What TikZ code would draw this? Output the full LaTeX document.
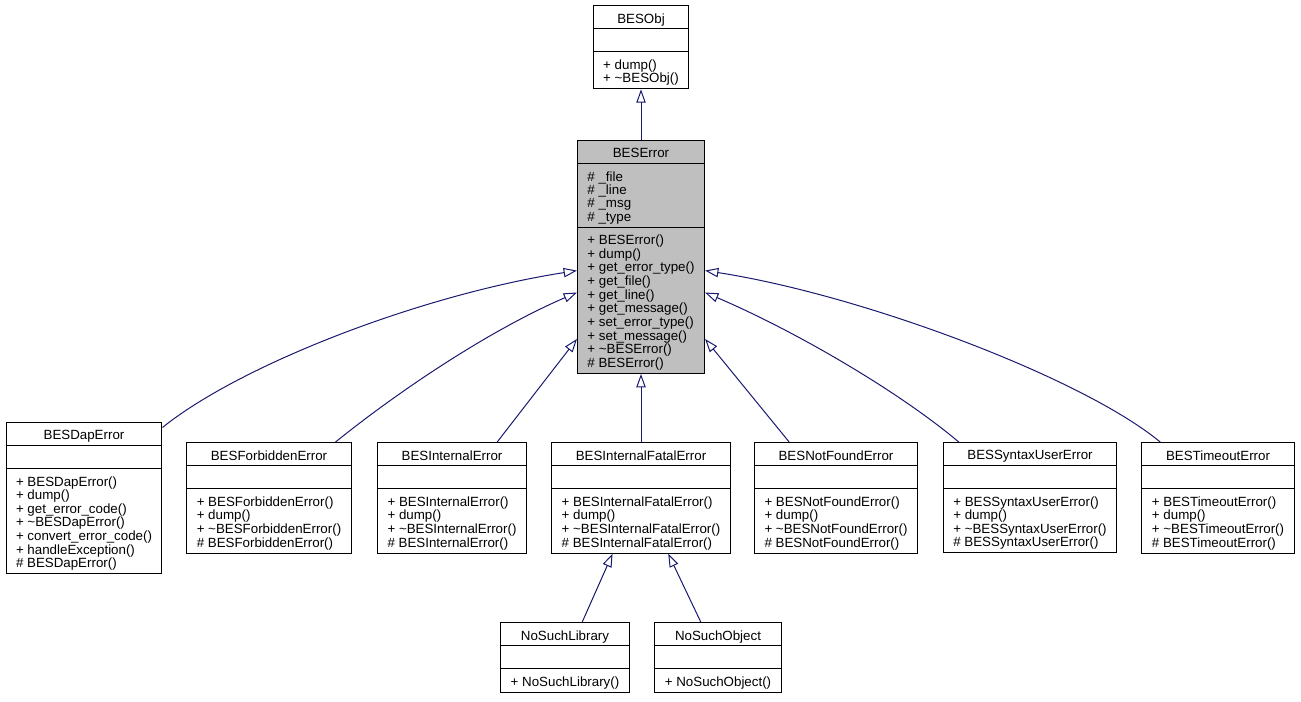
\documentclass[tikz,border=0pt]{standalone}
\usepackage{fontspec}
\setmainfont{Liberation Sans}
\usetikzlibrary{shapes.multipart,arrows.meta}

\definecolor{edgeblue}{HTML}{191970}
\newcommand{\umlfont}{\fontsize{10}{10}\selectfont}
\newcommand{\classname}[1]{\raisebox{-2.25pt}[\height][\depth]{#1\strut}}
\newcommand{\members}[1]{\raisebox{-2.25pt}[\height][\depth]{\begin{tabular}{@{}l@{}}#1\end{tabular}}}

\tikzset{
  classbox/.style={draw, line width=0.75pt, fill=white, anchor=north,
    rectangle split, rectangle split parts=3,
    rectangle split part align={center,left,left},
    inner xsep=7.5pt, inner ysep=3.25pt, font=\umlfont},
  inherit/.style={draw=edgeblue, line width=0.75pt,
    -{Triangle[open, length=10pt, width=7pt]}}
}

\begin{document}
\begin{tikzpicture}[x=0.75pt, y=-0.75pt]
  \useasboundingbox (0,0) rectangle (1301,701);

  % Top of the hierarchy
  \node[classbox] (besobj) at (641,5) {\classname{BESObj}
    \nodepart{two}\strut
    \nodepart{three}\members{+ dump()\\+ \textasciitilde BESObj()}};
  \node[classbox, fill=gray!50] (beserror) at (641,140) {\classname{BESError}
    \nodepart{two}\members{\# \_file\\\# \_line\\\# \_msg\\\# \_type}
    \nodepart{three}\members{+ BESError()\\+ dump()\\+ get\_error\_type()\\
      + get\_file()\\+ get\_line()\\+ get\_message()\\+ set\_error\_type()\\
      + set\_message()\\+ \textasciitilde BESError()\\\# BESError()}};

  % Derived error classes
  \node[classbox] (dap) at (84,422) {\classname{BESDapError}
    \nodepart{two}\strut
    \nodepart{three}\members{+ BESDapError()\\+ dump()\\+ get\_error\_code()\\
      + \textasciitilde BESDapError()\\+ convert\_error\_code()\\
      + handleException()\\\# BESDapError()}};
  \node[classbox] (forbidden) at (269,442) {\classname{BESForbiddenError}
    \nodepart{two}\strut
    \nodepart{three}\members{+ BESForbiddenError()\\+ dump()\\
      + \textasciitilde BESForbiddenError()\\\# BESForbiddenError()}};
  \node[classbox] (internal) at (452,442) {\classname{BESInternalError}
    \nodepart{two}\strut
    \nodepart{three}\members{+ BESInternalError()\\+ dump()\\
      + \textasciitilde BESInternalError()\\\# BESInternalError()}};
  \node[classbox] (fatal) at (641,442) {\classname{BESInternalFatalError}
    \nodepart{two}\strut
    \nodepart{three}\members{+ BESInternalFatalError()\\+ dump()\\
      + \textasciitilde BESInternalFatalError()\\\# BESInternalFatalError()}};
  \node[classbox] (notfound) at (836,442) {\classname{BESNotFoundError}
    \nodepart{two}\strut
    \nodepart{three}\members{+ BESNotFoundError()\\+ dump()\\
      + \textasciitilde BESNotFoundError()\\\# BESNotFoundError()}};
  \node[classbox] (syntax) at (1030,442) {\classname{BESSyntaxUserError}
    \nodepart{two}\strut
    \nodepart{three}\members{+ BESSyntaxUserError()\\+ dump()\\
      + \textasciitilde BESSyntaxUserError()\\\# BESSyntaxUserError()}};
  \node[classbox] (timeout) at (1218,442) {\classname{BESTimeoutError}
    \nodepart{two}\strut
    \nodepart{three}\members{+ BESTimeoutError()\\+ dump()\\
      + \textasciitilde BESTimeoutError()\\\# BESTimeoutError()}};

  % Below BESInternalFatalError
  \node[classbox] (library) at (565,622) {\classname{NoSuchLibrary}
    \nodepart{two}\strut
    \nodepart{three}\members{+ NoSuchLibrary()}};
  \node[classbox] (object) at (718,622) {\classname{NoSuchObject}
    \nodepart{two}\strut
    \nodepart{three}\members{+ NoSuchObject()}};

  % Inheritance arrows
  \draw[inherit] (beserror.north) -- (besobj.south);
  \draw[inherit] (dap.42) .. controls (240,365) and (420,295) .. (beserror.192);
  \draw[inherit] (forbidden.40) .. controls (400,390) and (490,330) .. (beserror.209);
  \draw[inherit] (internal.51) -- (beserror.232);
  \draw[inherit] (fatal.north) -- (beserror.south);
  \draw[inherit] (notfound.130) -- (beserror.308);
  \draw[inherit] (syntax.142) .. controls (897,390) and (793,330) .. (beserror.331);
  \draw[inherit] (timeout.136) .. controls (1083,378) and (863,295) .. (beserror.348);
  \draw[inherit] (library.64) -- (fatal.243);
  \draw[inherit] (object.116) -- (fatal.296);
\end{tikzpicture}
\end{document}
